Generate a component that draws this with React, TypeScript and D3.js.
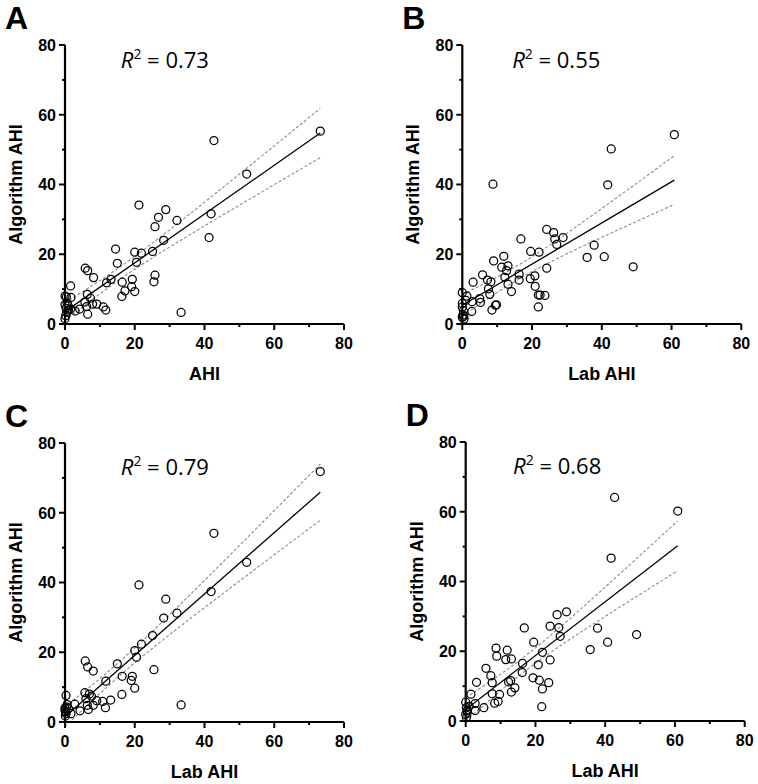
import React from 'react';
import { scaleLinear, line, range, mean, sum } from 'd3';

// Data: [reference AHI, algorithm AHI]
const panelA: number[][] = [
  [0, 8.0], [0.4, 7.8], [1.6, 10.9], [1.7, 7.6], [0, 5.6], [0.9, 5.2], [0.3, 4.5], [0.5, 3.3],
  [0.2, 2.4], [0, 1.5], [1.6, 4.3], [0.6, 6.0], [1.0, 4.0], [2.9, 3.7], [4.2, 4.3], [5.7, 6.3],
  [6.4, 8.5], [6.2, 5.0], [6.5, 2.8], [7.3, 7.4], [7.9, 5.7], [9.1, 5.7], [11.0, 4.9], [11.7, 4.0],
  [8.2, 13.3], [5.8, 16.0], [6.5, 15.3], [11.9, 11.8], [13.2, 12.8], [14.5, 21.5], [15.0, 17.4],
  [16.4, 12.0], [16.3, 7.9], [17.2, 9.5], [19.3, 12.8], [19.1, 10.7], [20.0, 9.3], [20.0, 20.6],
  [20.5, 17.7], [21.9, 20.3], [21.2, 34.1], [25.1, 20.8], [25.5, 12.1], [25.8, 14.0], [25.8, 27.9],
  [26.8, 30.6], [28.3, 24.0], [28.9, 32.8], [32.1, 29.7], [33.3, 3.3], [41.3, 24.8], [41.9, 31.6],
  [42.7, 52.6], [52.1, 43.0], [73.2, 55.3]
];
const panelB: number[][] = [
  [0, 9.0], [1.3, 8.0], [3.1, 12.0], [2.8, 6.4], [5.0, 7.3], [5.2, 6.2], [2.7, 3.6], [0, 5.9],
  [0, 4.9], [0.3, 3.8], [0.2, 2.6], [0.5, 1.4], [0, 1.9], [1.0, 6.8], [0.4, 2.2], [5.8, 14.1],
  [7.2, 12.6], [8.2, 12.1], [7.5, 10.1], [7.9, 8.5], [8.5, 4.0], [9.5, 5.4], [9.8, 5.5], [8.8, 40.1],
  [9.0, 18.1], [11.9, 19.4], [11.3, 16.3], [13.1, 16.7], [12.7, 15.3], [12.2, 13.4], [13.1, 11.4],
  [14.1, 9.3], [16.3, 14.3], [16.3, 12.6], [16.8, 24.4], [19.5, 13.0], [19.6, 20.8], [20.8, 13.8],
  [20.9, 10.8], [21.8, 8.3], [22.3, 8.3], [23.7, 8.2], [21.8, 4.9], [22.0, 20.6], [24.2, 16.0],
  [24.2, 27.1], [26.2, 26.2], [26.5, 24.4], [27.1, 22.8], [28.9, 24.8], [35.8, 19.1], [37.8, 22.6],
  [40.7, 19.3], [41.7, 39.9], [42.7, 50.2], [49.0, 16.4], [60.8, 54.3]
];
const panelC: number[][] = [
  [73.2, 71.8], [42.7, 54.1], [52.1, 45.8], [41.9, 37.4], [21.2, 39.3], [28.9, 35.2], [32.1, 31.2],
  [28.3, 29.8], [25.1, 24.8], [21.9, 22.3], [20.0, 20.5], [20.5, 18.6], [15.0, 16.7], [25.5, 15.0],
  [33.3, 4.9], [5.8, 17.5], [6.5, 15.8], [8.1, 14.6], [11.7, 11.7], [16.4, 13.1], [19.3, 13.1],
  [19.0, 11.9], [20.0, 9.7], [16.3, 7.9], [13.1, 6.3], [10.8, 5.9], [11.6, 4.1], [9.1, 6.1],
  [8.1, 4.8], [6.7, 3.6], [4.3, 3.2], [2.8, 5.1], [1.7, 2.4], [5.7, 8.4], [7.0, 8.0], [7.6, 7.4],
  [6.0, 6.7], [6.4, 4.8], [0.3, 7.6], [0.5, 4.3], [0, 3.3], [0.3, 2.4], [0.1, 1.7], [1.0, 3.8],
  [0.6, 5.0], [0, 4.0], [0.2, 2.9]
];
const panelD: number[][] = [
  [60.8, 60.2], [42.7, 64.1], [41.7, 46.7], [49.0, 24.8], [37.8, 26.6], [35.7, 20.5], [40.7, 22.6],
  [28.9, 31.3], [26.2, 30.5], [26.7, 26.8], [24.2, 27.2], [27.1, 24.3], [16.8, 26.7], [19.5, 22.6],
  [22.0, 19.7], [24.2, 17.5], [16.3, 16.5], [16.2, 13.9], [20.8, 16.1], [19.3, 12.4], [21.1, 11.7],
  [23.8, 11.0], [22.0, 9.2], [21.8, 4.1], [8.7, 20.9], [8.9, 18.6], [11.9, 20.3], [11.5, 17.6],
  [13.1, 17.8], [5.8, 15.1], [7.2, 13.0], [7.6, 11.0], [12.3, 11.2], [12.9, 11.6], [14.1, 9.5],
  [13.1, 8.3], [3.1, 11.1], [1.5, 7.7], [2.7, 5.0], [2.7, 3.0], [5.2, 3.8], [7.6, 7.8], [9.7, 7.6],
  [8.3, 5.1], [9.3, 5.6], [0, 5.4], [0.2, 3.8], [0.4, 3.0], [0, 1.9], [0.2, 1.0], [1.0, 4.2], [0.5, 2.5]
];

const letters = ['A', 'B', 'C', 'D'];
const r2Labels = ['0.73', '0.55', '0.79', '0.68'];
const xTitles = ['AHI', 'Lab AHI', 'Lab AHI', 'Lab AHI'];
const yTitle = 'Algorithm AHI';
const tickValues = [0, 10, 20, 30, 40, 50, 60, 70, 80];
// where the R² label sits, in data units
const r2Pos = [[16, 73.4], [14.3, 73.4], [16, 70.8], [13.6, 70.8]];

const width = 758;
const height = 784;
const size = 279;
const origins = [[65, 45], [462.3, 45], [65, 443], [465.7, 442]];
const boldFont = '"Liberation Sans", Arial, sans-serif';

// least squares fit with 95% confidence band of the line
function fit(pts: number[][]) {
  const n = pts.length;
  const mx = mean(pts, d => d[0]) as number;
  const my = mean(pts, d => d[1]) as number;
  const sxx = sum(pts, d => (d[0] - mx) ** 2);
  const sxy = sum(pts, d => (d[0] - mx) * (d[1] - my));
  const slope = sxy / sxx;
  const icpt = my - slope * mx;
  const sse = sum(pts, d => (d[1] - (icpt + slope * d[0])) ** 2);
  const s = Math.sqrt(sse / (n - 2));
  const t = 2.0;
  const xs = pts.map(d => d[0]);
  const x0 = Math.min(...xs);
  const x1 = Math.max(...xs);
  const grid = range(0, 41).map(i => x0 + (x1 - x0) * i / 40);
  const band = (sign: number) => grid.map(x => {
    const se = s * Math.sqrt(1 / n + (x - mx) ** 2 / sxx);
    return [x, icpt + slope * x + sign * t * se];
  });
  return {
    fitLine: [[x0, icpt + slope * x0], [x1, icpt + slope * x1]],
    upper: band(1),
    lower: band(-1)
  };
}

const Panel = ({ idx, data }: { idx: number; data: number[][] }) => {
  const [ox, oy] = origins[idx];
  const x = scaleLinear().domain([0, 80]).range([0, size]);
  const y = scaleLinear().domain([0, 80]).range([size, 0]);
  const lineFn = line<number[]>().x(d => x(d[0])).y(d => y(d[1]));
  const { fitLine, upper, lower } = fit(data);

  return (
    <g transform={`translate(${ox},${oy})`}>
      <text x={-60} y={-16} fontFamily={boldFont} fontWeight="bold" fontSize={32}>{letters[idx]}</text>

      {/* bands and fit */}
      <path d={lineFn(upper) || ''} fill="none" stroke="#8a8a8a" strokeWidth={1.1} strokeDasharray="3,2" />
      <path d={lineFn(lower) || ''} fill="none" stroke="#8a8a8a" strokeWidth={1.1} strokeDasharray="3,2" />
      <path d={lineFn(fitLine) || ''} fill="none" stroke="#000" strokeWidth={1.3} />

      {data.map((d, i) => (
        <circle key={i} cx={x(d[0])} cy={y(d[1])} r={4} fill="none" stroke="#000" strokeWidth={1.25} />
      ))}

      {/* y axis */}
      <line x1={0} x2={0} y1={y(80)} y2={y(0) + 1} stroke="#000" strokeWidth={2.2} />
      {tickValues.map(v => (
        <line key={'yt' + v} x1={v % 20 === 0 ? -6 : -3} x2={0} y1={y(v)} y2={y(v)} stroke="#000" strokeWidth={2} />
      ))}
      {tickValues.filter(v => v % 20 === 0).map(v => (
        <text key={'yl' + v} x={-9} y={y(v)} dy="0.36em" textAnchor="end"
          fontFamily={boldFont} fontWeight="bold" fontSize={16}>{v}</text>
      ))}

      {/* x axis */}
      <line x1={-1} x2={x(80)} y1={y(0)} y2={y(0)} stroke="#000" strokeWidth={2.2} />
      {tickValues.map(v => (
        <line key={'xt' + v} x1={x(v)} x2={x(v)} y1={y(0)} y2={y(0) + (v % 20 === 0 ? 6 : 3)} stroke="#000" strokeWidth={2} />
      ))}
      {tickValues.filter(v => v % 20 === 0).map(v => (
        <text key={'xl' + v} x={x(v)} y={y(0) + 25} textAnchor="middle"
          fontFamily={boldFont} fontWeight="bold" fontSize={16}>{v}</text>
      ))}

      <text x={size / 2} y={size + 56} textAnchor="middle" fontFamily={boldFont} fontWeight="bold" fontSize={18}>
        {xTitles[idx]}
      </text>
      <text transform={`translate(-43,${size / 2}) rotate(-90)`} textAnchor="middle"
        fontFamily={boldFont} fontWeight="bold" fontSize={18}>{yTitle}</text>

      <text x={x(r2Pos[idx][0])} y={y(r2Pos[idx][1])} fontFamily='"Open Sans", sans-serif' fontSize={22}>
        <tspan fontStyle="italic">R</tspan>
        <tspan dy={-9} fontSize={14}>2</tspan>
        <tspan dy={9}> = {r2Labels[idx]}</tspan>
      </text>
    </g>
  );
};

const App = () => {
  const panels = [panelA, panelB, panelC, panelD];
  return (
    <div style={{ position: 'absolute', left: 0, top: 0 }}>
      <svg width={width} height={height} style={{ display: 'block', background: '#fff' }}>
        {panels.map((d, i) => <Panel key={i} idx={i} data={d} />)}
      </svg>
    </div>
  );
};

export default App;
